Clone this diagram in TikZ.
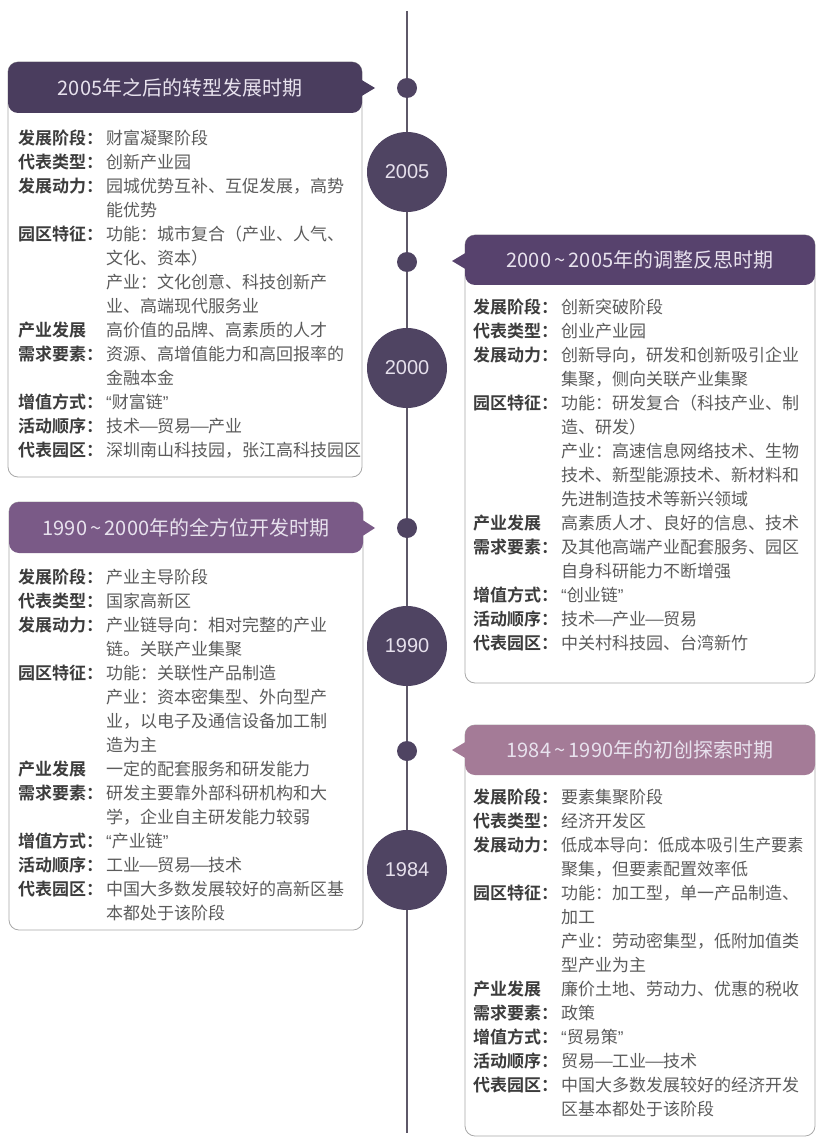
\documentclass[tikz,border=0pt]{standalone}
\usepackage{fontspec}
\usepackage{graphicx}
\setmainfont{Noto Sans CJK SC}[BoldFont={Noto Sans CJK SC Bold}]
\newfontfamily\yearfont{Liberation Sans}
\definecolor{linec}{HTML}{5E5868}
\definecolor{circc}{HTML}{4F4462}
\definecolor{hA}{HTML}{4A3D5E}
\definecolor{hB}{HTML}{57426D}
\definecolor{hC}{HTML}{7A5A87}
\definecolor{hD}{HTML}{A47B97}
\definecolor{borderc}{HTML}{A8A8A8}
\definecolor{headt}{HTML}{E8E2EE}
\definecolor{yeart}{HTML}{E6E0EC}
\definecolor{labc}{HTML}{3C3C3C}
\definecolor{bodyc}{HTML}{5C5C5C}
\newcommand\plab[1]{\strut\makebox[88pt][l]{\bfseries\color{labc}#1}}
\newcommand\myoq{{\yearfont “}}
\newcommand\mycq{{\yearfont ”}}
\newcommand\dsh{\makebox[1em][c]{\scalebox{1.35}[1]{—}}}
\tikzset{
  tl/.style={line width=2.5pt, draw=linec},
  dotnode/.style={circle, fill=circc, minimum size=20, inner sep=0},
  yearnode/.style={circle, fill=circc, minimum size=80, inner sep=0, text=yeart, font=\yearfont\fontsize{20}{24}\selectfont},
  bodybox/.style={draw=borderc, line width=0.8pt, fill=white, rounded corners=10},
  headtext/.style={text=headt, font=\fontsize{20}{24}\selectfont, inner sep=0},
  bodytext/.style={anchor=north west, align=left, inner sep=0, text=bodyc, font=\fontsize{17}{24}\selectfont},
}
\begin{document}
\begin{tikzpicture}[x=1pt,y=-1pt]
\useasboundingbox (0,0) rectangle (816,1139);
% timeline
\coordinate (ttop) at (407,11);
\coordinate (tbot) at (407,1133);
\draw[tl] (ttop) -- (tbot);
\node[dotnode] (d1) at (407,88) {};
\node[dotnode] (d2) at (407,262) {};
\node[dotnode] (d3) at (407,528) {};
\node[dotnode] (d4) at (407,751) {};
\node[yearnode] (y2005) at (407,172) {2005};
\node[yearnode] (y2000) at (407,368) {2000};
\node[yearnode] (y1990) at (407,646) {1990};
\node[yearnode] (y1984) at (407,870) {1984};

% ---- Box A (2005)
\path[bodybox] (8,62) rectangle (362,477);
\fill[hA, rounded corners=10] (8,62) rectangle (362,113);
\fill[hA] (360,79) -- (375,88) -- (360,97) -- cycle;
\node[headtext] (hA) at (180,88) {2005年之后的转型发展时期};
\node[bodytext] (bA) at (18,127.5) {%
\plab{发展阶段：}财富凝聚阶段\\
\plab{代表类型：}创新产业园\\
\plab{发展动力：}园城优势互补、互促发展，高势\\
\plab{}能优势\\
\plab{园区特征：}功能：城市复合（产业、人气、\\
\plab{}文化、资本）\\
\plab{}产业：文化创意、科技创新产\\
\plab{}业、高端现代服务业\\
\plab{产业发展}高价值的品牌、高素质的人才\\
\plab{需求要素：}资源、高增值能力和高回报率的\\
\plab{}金融本金\\
\plab{增值方式：}\myoq 财富链\mycq\\
\plab{活动顺序：}技术\dsh 贸易\dsh 产业\\
\plab{代表园区：}深圳南山科技园，张江高科技园区};

% ---- Box B (2000)
\path[bodybox] (465,235) rectangle (815,683);
\fill[hB, rounded corners=10] (465,235) rectangle (815,285);
\fill[hB] (467,252) -- (452,261) -- (467,270) -- cycle;
\node[headtext] (hB) at (640,260) {2000\,\textasciitilde\,2005年的调整反思时期};
\node[bodytext] (bB) at (473,296.7) {%
\plab{发展阶段：}创新突破阶段\\
\plab{代表类型：}创业产业园\\
\plab{发展动力：}创新导向，研发和创新吸引企业\\
\plab{}集聚，侧向关联产业集聚\\
\plab{园区特征：}功能：研发复合（科技产业、制\\
\plab{}造、研发）\\
\plab{}产业：高速信息网络技术、生物\\
\plab{}技术、新型能源技术、新材料和\\
\plab{}先进制造技术等新兴领域\\
\plab{产业发展}高素质人才、良好的信息、技术\\
\plab{需求要素：}及其他高端产业配套服务、园区\\
\plab{}自身科研能力不断增强\\
\plab{增值方式：}\myoq 创业链\mycq\\
\plab{活动顺序：}技术\dsh 产业\dsh 贸易\\
\plab{代表园区：}中关村科技园、台湾新竹};

% ---- Box C (1990)
\path[bodybox] (9,502) rectangle (363,930);
\fill[hC, rounded corners=10] (9,502) rectangle (363,553);
\fill[hC] (361,519) -- (375,528) -- (361,537) -- cycle;
\node[headtext] (hC) at (186,528) {1990\,\textasciitilde\,2000年的全方位开发时期};
\node[bodytext] (bC) at (18,566.7) {%
\plab{发展阶段：}产业主导阶段\\
\plab{代表类型：}国家高新区\\
\plab{发展动力：}产业链导向：相对完整的产业\\
\plab{}链。关联产业集聚\\
\plab{园区特征：}功能：关联性产品制造\\
\plab{}产业：资本密集型、外向型产\\
\plab{}业，以电子及通信设备加工制\\
\plab{}造为主\\
\plab{产业发展}一定的配套服务和研发能力\\
\plab{需求要素：}研发主要靠外部科研机构和大\\
\plab{}学，企业自主研发能力较弱\\
\plab{增值方式：}\myoq 产业链\mycq\\
\plab{活动顺序：}工业\dsh 贸易\dsh 技术\\
\plab{代表园区：}中国大多数发展较好的高新区基\\
\plab{}本都处于该阶段};

% ---- Box D (1984)
\path[bodybox] (465,725) rectangle (815,1136);
\fill[hD, rounded corners=10] (465,725) rectangle (815,775);
\fill[hD] (467,741) -- (452,750) -- (467,759) -- cycle;
\node[headtext] (hD) at (640,750) {1984\,\textasciitilde\,1990年的初创探索时期};
\node[bodytext] (bD) at (473,786.7) {%
\plab{发展阶段：}要素集聚阶段\\
\plab{代表类型：}经济开发区\\
\plab{发展动力：}\scalebox{0.95}[1]{低成本导向：低成本吸引生产要素}\\
\plab{}聚集，但要素配置效率低\\
\plab{园区特征：}功能：加工型，单一产品制造、\\
\plab{}加工\\
\plab{}产业：劳动密集型，低附加值类\\
\plab{}型产业为主\\
\plab{产业发展}廉价土地、劳动力、优惠的税收\\
\plab{需求要素：}政策\\
\plab{增值方式：}\myoq 贸易策\mycq\\
\plab{活动顺序：}贸易\dsh 工业\dsh 技术\\
\plab{代表园区：}中国大多数发展较好的经济开发\\
\plab{}区基本都处于该阶段};
\end{tikzpicture}
\end{document}
